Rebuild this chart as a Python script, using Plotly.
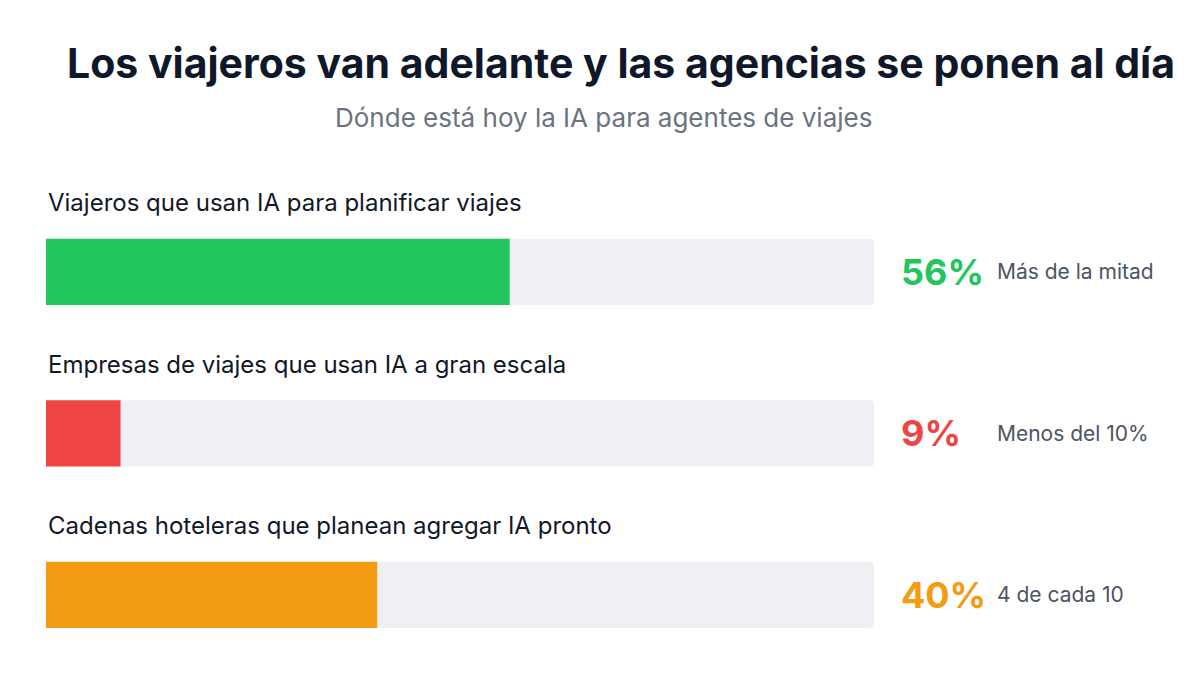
import plotly.graph_objects as go

categories = ["Viajeros que usan IA para planificar viajes",
              "Empresas de viajes que usan IA a gran escala",
              "Cadenas hoteleras que planean agregar IA pronto"]
values = [56, 9, 40]
track_max = [100, 100, 100]
value_labels = ["56%", "9%", "40%"]
notes = ["Más de la mitad", "Menos del 10%", "4 de cada 10"]
colors = ["#22c55e", "#ef4444", "#f39c12"]

title_text = "Los viajeros van adelante y las agencias se ponen al día"
subtitle_text = "Dónde está hoy la IA para agentes de viajes"

FONT = "Inter, Roboto, sans-serif"

L, R, T, B = 46, 326, 150, 25
W, H = 1200, 675
pw, ph = W - L - R, H - T - B

def px_x(px):
    return (px - L) / pw

def px_y(py):
    return (H - B - py) / ph

fig = go.Figure()
fig.add_trace(go.Bar(y=categories, x=track_max, orientation="h",
                     marker=dict(color="#eef0f3", line=dict(width=0)),
                     width=0.41, hoverinfo="skip", showlegend=False))
fig.add_trace(go.Bar(y=categories, x=values, orientation="h",
                     marker=dict(color=colors, line=dict(width=0)),
                     width=0.41, hoverinfo="skip", showlegend=False))

annotations = []
for cat, vl, note, col in zip(categories, value_labels, notes, colors):
    annotations.append(dict(x=0, y=cat, xref="x", yref="y", text=cat,
                            showarrow=False, xanchor="left", yanchor="middle",
                            yshift=69, font=dict(family=FONT, size=24, color="#111827")))
    annotations.append(dict(x=px_x(899), y=cat, xref="paper", yref="y", text=f"<b>{vl}</b>",
                            showarrow=False, xanchor="left", yanchor="middle",
                            font=dict(family=FONT, size=36, color=col)))
    annotations.append(dict(x=px_x(995), y=cat, xref="paper", yref="y", text=note,
                            showarrow=False, xanchor="left", yanchor="middle",
                            font=dict(family=FONT, size=21, color="#4b5563")))

annotations.append(dict(x=px_x(621), y=px_y(63), xref="paper", yref="paper",
                        text=f"<b>{title_text}</b>",
                        showarrow=False, xanchor="center", yanchor="middle",
                        font=dict(family=FONT, size=41, color="#0f172a")))
annotations.append(dict(x=px_x(603), y=px_y(118), xref="paper", yref="paper",
                        text=subtitle_text,
                        showarrow=False, xanchor="center", yanchor="middle",
                        font=dict(family=FONT, size=26, color="#6b7280")))

fig.update_layout(
    width=W, height=H,
    margin=dict(l=L, r=R, t=T, b=B),
    paper_bgcolor="white", plot_bgcolor="white",
    barmode="overlay", barcornerradius=4,
    xaxis=dict(range=[0, 100], visible=False, fixedrange=True),
    yaxis=dict(range=[2.341, -0.755], visible=False, fixedrange=True),
    annotations=annotations,
    showlegend=False,
)

fig.write_html("out.html")
